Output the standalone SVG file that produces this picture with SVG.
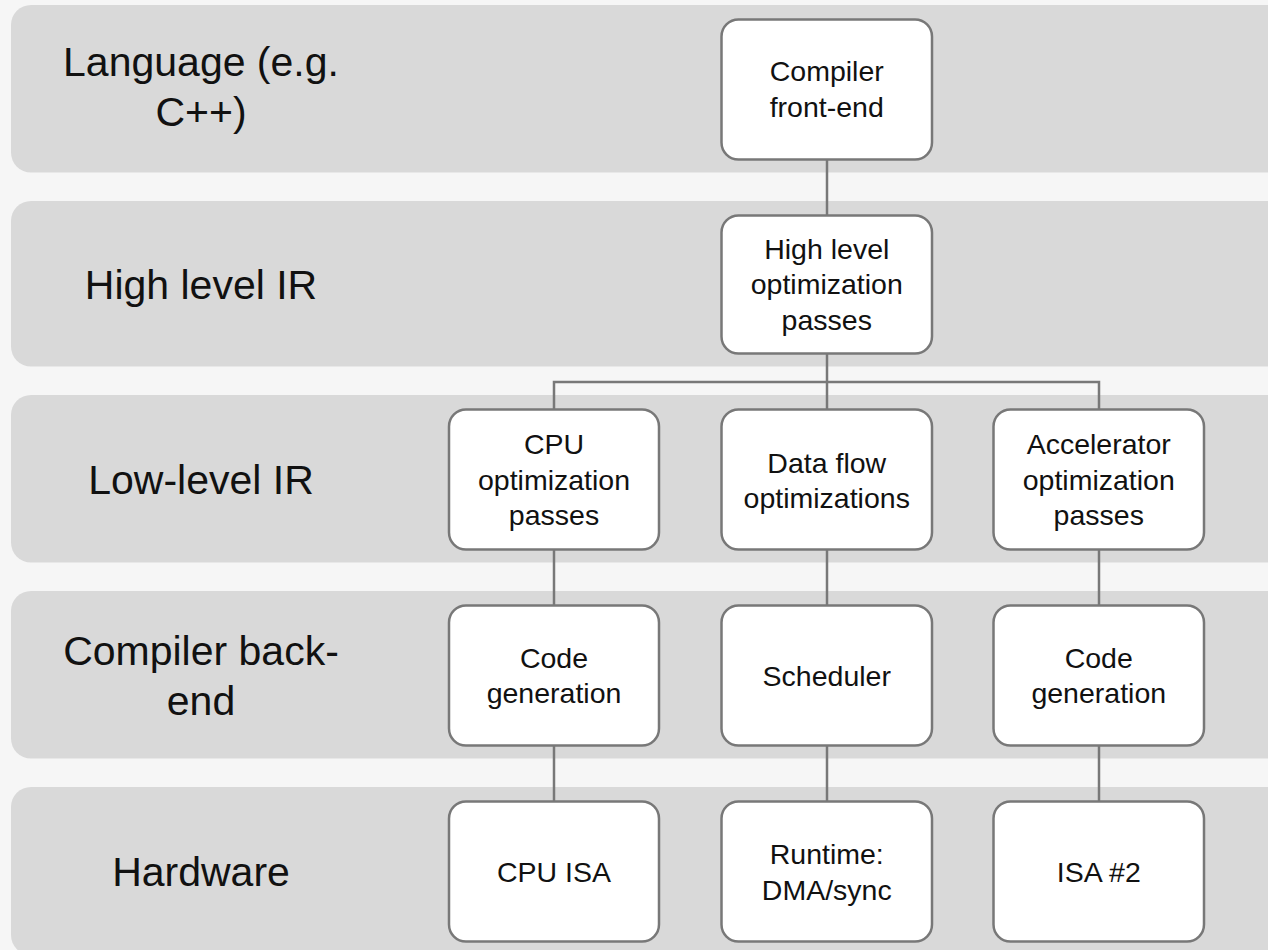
<svg xmlns="http://www.w3.org/2000/svg" width="1268" height="950" viewBox="0 0 1268 950">
<style>
.band{fill:#d9d9d9;}
.lbl{font-family:"Liberation Sans",Arial,sans-serif;font-size:41px;fill:#111;text-anchor:middle;}
.box{fill:#ffffff;stroke:#787878;stroke-width:2.5;}
.txt{font-family:"Liberation Sans",Arial,sans-serif;font-size:28.5px;fill:#111;text-anchor:middle;}
.conn{stroke:#787878;stroke-width:2.5;fill:none;}
</style>
<rect x="0" y="0" width="1268" height="950" fill="#f6f6f6"/>
<g id="bands">
<g id="band-language"><rect class="band" x="11" y="5" width="1290" height="167.5" rx="20"/><text class="lbl" x="201" y="76">Language (e.g.</text><text class="lbl" x="201" y="126">C++)</text></g>
<g id="band-high"><rect class="band" x="11" y="201" width="1290" height="165.5" rx="20"/><text class="lbl" x="201" y="298.5">High level IR</text></g>
<g id="band-low"><rect class="band" x="11" y="395" width="1290" height="167.5" rx="20"/><text class="lbl" x="201" y="493.5">Low-level IR</text></g>
<g id="band-backend"><rect class="band" x="11" y="591" width="1290" height="167.5" rx="20"/><text class="lbl" x="201" y="664.5">Compiler back-</text><text class="lbl" x="201" y="714.5">end</text></g>
<g id="band-hardware"><rect class="band" x="11" y="787" width="1290" height="168" rx="20"/><text class="lbl" x="201" y="886">Hardware</text></g>
</g>
<g id="connectors">
<line class="conn" x1="827" y1="159.5" x2="827" y2="215.5"/>
<line class="conn" x1="827" y1="353.5" x2="827" y2="409.5"/>
<polyline class="conn" points="554,409.5 554,382 1099,382 1099,409.5"/>
<line class="conn" x1="554" y1="549.5" x2="554" y2="605.5"/>
<line class="conn" x1="827" y1="549.5" x2="827" y2="605.5"/>
<line class="conn" x1="1099" y1="549.5" x2="1099" y2="605.5"/>
<line class="conn" x1="554" y1="745.5" x2="554" y2="801.5"/>
<line class="conn" x1="827" y1="745.5" x2="827" y2="801.5"/>
<line class="conn" x1="1099" y1="745.5" x2="1099" y2="801.5"/>
</g>
<g id="node-frontend"><rect class="box" x="721.5" y="19.5" width="210.5" height="140" rx="17"/><text class="txt" x="826.75" y="80.5">Compiler</text><text class="txt" x="826.75" y="116.5">front-end</text></g>
<g id="node-highopt"><rect class="box" x="721.5" y="215.5" width="210.5" height="138" rx="17"/><text class="txt" x="826.75" y="258.5">High level</text><text class="txt" x="826.75" y="294">optimization</text><text class="txt" x="826.75" y="329.5">passes</text></g>
<g id="node-cpuopt"><rect class="box" x="449" y="409.5" width="210" height="140" rx="17"/><text class="txt" x="554" y="454">CPU</text><text class="txt" x="554" y="489.5">optimization</text><text class="txt" x="554" y="525">passes</text></g>
<g id="node-dataflow"><rect class="box" x="721.5" y="409.5" width="210.5" height="140" rx="17"/><text class="txt" x="826.75" y="472.5">Data flow</text><text class="txt" x="826.75" y="508">optimizations</text></g>
<g id="node-accopt"><rect class="box" x="993.5" y="409.5" width="210.5" height="140" rx="17"/><text class="txt" x="1098.75" y="454">Accelerator</text><text class="txt" x="1098.75" y="489.5">optimization</text><text class="txt" x="1098.75" y="525">passes</text></g>
<g id="node-cpucodegen"><rect class="box" x="449" y="605.5" width="210" height="140" rx="17"/><text class="txt" x="554" y="667.75">Code</text><text class="txt" x="554" y="703.25">generation</text></g>
<g id="node-scheduler"><rect class="box" x="721.5" y="605.5" width="210.5" height="140" rx="17"/><text class="txt" x="826.75" y="685.5">Scheduler</text></g>
<g id="node-acccodegen"><rect class="box" x="993.5" y="605.5" width="210.5" height="140" rx="17"/><text class="txt" x="1098.75" y="667.75">Code</text><text class="txt" x="1098.75" y="703.25">generation</text></g>
<g id="node-cpuisa"><rect class="box" x="449" y="801.5" width="210" height="140" rx="17"/><text class="txt" x="554" y="881.5">CPU ISA</text></g>
<g id="node-runtime"><rect class="box" x="721.5" y="801.5" width="210.5" height="140" rx="17"/><text class="txt" x="826.75" y="864">Runtime:</text><text class="txt" x="826.75" y="899.5">DMA/sync</text></g>
<g id="node-isa2"><rect class="box" x="993.5" y="801.5" width="210.5" height="140" rx="17"/><text class="txt" x="1098.75" y="881.5">ISA #2</text></g>
</svg>
